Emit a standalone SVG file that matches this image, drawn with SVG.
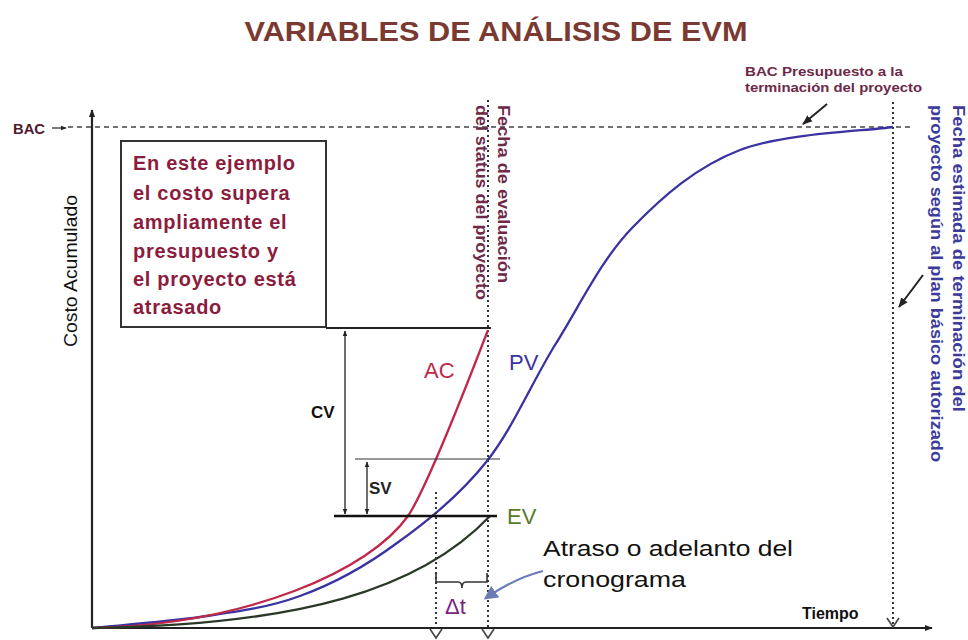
<svg xmlns="http://www.w3.org/2000/svg" width="968" height="640" viewBox="0 0 968 640">
<defs>
<style>
text{font-family:"Liberation Sans",Arial,sans-serif}
.title{font-size:28px;font-weight:bold;fill:#7a3a32}
.box{font-size:20px;font-weight:bold;fill:#8c1c3e}
.mar{font-weight:bold;fill:#6e2848}
.blu{font-weight:bold;fill:#3b3b9b;font-size:16px}
.axis{stroke:#222;stroke-width:2.2;fill:none}
.dot{stroke:#333;stroke-width:2;stroke-dasharray:2 3;fill:none}
.dash{stroke:#444;stroke-width:1.5;stroke-dasharray:5 4;fill:none}
.chev{stroke:#444;stroke-width:1.6;fill:none}
</style>
<marker id="ah" viewBox="0 0 10 10" refX="9" refY="5" markerWidth="8" markerHeight="8" orient="auto-start-reverse" markerUnits="userSpaceOnUse"><path d="M0,1 L10,5 L0,9 Z" fill="#222"/></marker>
<marker id="ahs" viewBox="0 0 10 10" refX="9" refY="5" markerWidth="6" markerHeight="6" orient="auto-start-reverse" markerUnits="userSpaceOnUse"><path d="M0,1 L10,5 L0,9 Z" fill="#222"/></marker>
<marker id="ahb" viewBox="0 0 10 10" refX="8" refY="5" markerWidth="14" markerHeight="14" orient="auto" markerUnits="userSpaceOnUse"><path d="M0,0 L10,5 L0,10 Z" fill="#6b7db5"/></marker>
<marker id="ahk" viewBox="0 0 10 10" refX="9" refY="5" markerWidth="10" markerHeight="10" orient="auto" markerUnits="userSpaceOnUse"><path d="M0,1 L10,5 L0,9 Z" fill="#222"/></marker>
</defs>
<rect width="968" height="640" fill="#ffffff"/>

<text class="title" x="496" y="41" text-anchor="middle" textLength="503" lengthAdjust="spacingAndGlyphs">VARIABLES DE ANÁLISIS DE EVM</text>

<g id="axes">
<line class="axis" x1="92" y1="628" x2="92" y2="110" marker-end="url(#ah)"/>
<line class="axis" x1="92" y1="628" x2="932" y2="628" marker-end="url(#ah)"/>
<text x="802" y="619" font-size="16" font-weight="bold" fill="#111">Tiempo</text>
<text transform="translate(77,271) rotate(-90)" text-anchor="middle" font-size="18" fill="#111" textLength="152" lengthAdjust="spacingAndGlyphs">Costo Acumulado</text>
</g>

<g id="bac">
<text x="13" y="134" font-size="15" font-weight="bold" fill="#4e1a30" textLength="32" lengthAdjust="spacingAndGlyphs">BAC</text>
<line x1="52" y1="128" x2="66" y2="128" stroke="#444" stroke-width="1.4" marker-end="url(#ahs)"/>
<line class="dash" x1="68" y1="127" x2="912" y2="127"/>
<text x="745" y="76" font-size="13" class="mar" textLength="158" lengthAdjust="spacingAndGlyphs">BAC Presupuesto a la</text>
<text x="745" y="92" font-size="13" class="mar" textLength="177" lengthAdjust="spacingAndGlyphs">terminación del proyecto</text>
</g>

<g id="note">
<rect x="121" y="141" width="205" height="186" fill="none" stroke="#333" stroke-width="2"/>
<text class="box" letter-spacing="0.7">
<tspan x="133" y="170">En este ejemplo</tspan>
<tspan x="133" y="200">el costo supera</tspan>
<tspan x="133" y="229">ampliamente el</tspan>
<tspan x="133" y="258">presupuesto y</tspan>
<tspan x="133" y="286">el proyecto está</tspan>
<tspan x="133" y="314">atrasado</tspan>
</text>
</g>

<g id="status-date">
<line class="dot" x1="488" y1="100" x2="488" y2="628"/>
<path class="chev" d="M482,629 L488,638 L494,629"/>
<text transform="translate(498,105) rotate(90)" font-size="16" class="mar" textLength="178" lengthAdjust="spacingAndGlyphs">Fecha de evaluación</text>
<text transform="translate(476,105) rotate(90)" font-size="16" class="mar" textLength="195" lengthAdjust="spacingAndGlyphs">del status del proyecto</text>
</g>

<g id="finish-date">
<line class="dot" x1="893" y1="102" x2="893" y2="628"/>
<path class="chev" d="M887,618 L893,627 L899,618"/>
<text transform="translate(953,105) rotate(90)" class="blu" textLength="307" lengthAdjust="spacingAndGlyphs">Fecha estimada de terminación del</text>
<text transform="translate(931,105) rotate(90)" class="blu" textLength="357" lengthAdjust="spacingAndGlyphs">proyecto según al plan básico autorizado</text>
</g>

<g id="curves">
<path id="pv" d="M92,628 C110,626 165,622 200,617 C235,612 267,608 300,596 C333,584 366,566 397,543 C428,521 461,494 487,461 C513,428 531,384 555,345 C579,307 601,260 632,228 C663,196 696,167 740,150 C784,133 868,131 893,127" fill="none" stroke="#3a32a0" stroke-width="2.3"/>
<path id="ac" d="M92,628 C250,624 370,570 408,516 C428,486 468,382 488,330" fill="none" stroke="#c0284a" stroke-width="2.3"/>
<path id="ev" d="M92,628 C300,625 420,590 490,516" fill="none" stroke="#2a3828" stroke-width="2.3"/>
<text x="424" y="378" font-size="22" fill="#c0284a">AC</text>
<text x="509" y="370" font-size="22" fill="#3a32a0">PV</text>
<text x="507" y="524" font-size="22" fill="#5a7a2a">EV</text>
</g>

<g id="variances">
<line x1="326" y1="328" x2="491" y2="328" stroke="#222" stroke-width="2"/>
<line x1="355" y1="459" x2="500" y2="459" stroke="#333" stroke-width="1.2"/>
<line x1="334" y1="516" x2="497" y2="516" stroke="#111" stroke-width="2.6"/>
<line x1="345" y1="331" x2="345" y2="514" stroke="#222" stroke-width="1.3" marker-start="url(#ahs)" marker-end="url(#ahs)"/>
<line x1="367" y1="462" x2="367" y2="514" stroke="#222" stroke-width="1.3" marker-start="url(#ahs)" marker-end="url(#ahs)"/>
<text x="311" y="418" font-size="17" font-weight="bold" fill="#111">CV</text>
<text x="369" y="494" font-size="17" font-weight="bold" fill="#222">SV</text>
</g>

<g id="delta-t">
<line class="dot" x1="436" y1="492" x2="436" y2="628"/>
<path class="chev" d="M430,629 L436,638 L442,629"/>
<path d="M436,573 L436,582 L458,582 Q462,582 462,588 Q462,582 466,582 L487,582 L487,573" fill="none" stroke="#333" stroke-width="1.6"/>
<text x="445" y="614" font-size="22" fill="#7a1f80">Δt</text>
<path d="M543,571 Q515,578 486,598" fill="none" stroke="#6b7db5" stroke-width="2.2" marker-end="url(#ahb)"/>
<text x="543" y="556" font-size="22" fill="#111" textLength="250" lengthAdjust="spacingAndGlyphs">Atraso o adelanto del</text>
<text x="543" y="587" font-size="22" fill="#111" textLength="143" lengthAdjust="spacingAndGlyphs">cronograma</text>
</g>

<g id="connectors">
<line x1="827" y1="104" x2="803" y2="124" stroke="#222" stroke-width="2" marker-end="url(#ahk)"/>
<line x1="923" y1="275" x2="899" y2="307" stroke="#222" stroke-width="2" marker-end="url(#ahk)"/>
</g>
</svg>
